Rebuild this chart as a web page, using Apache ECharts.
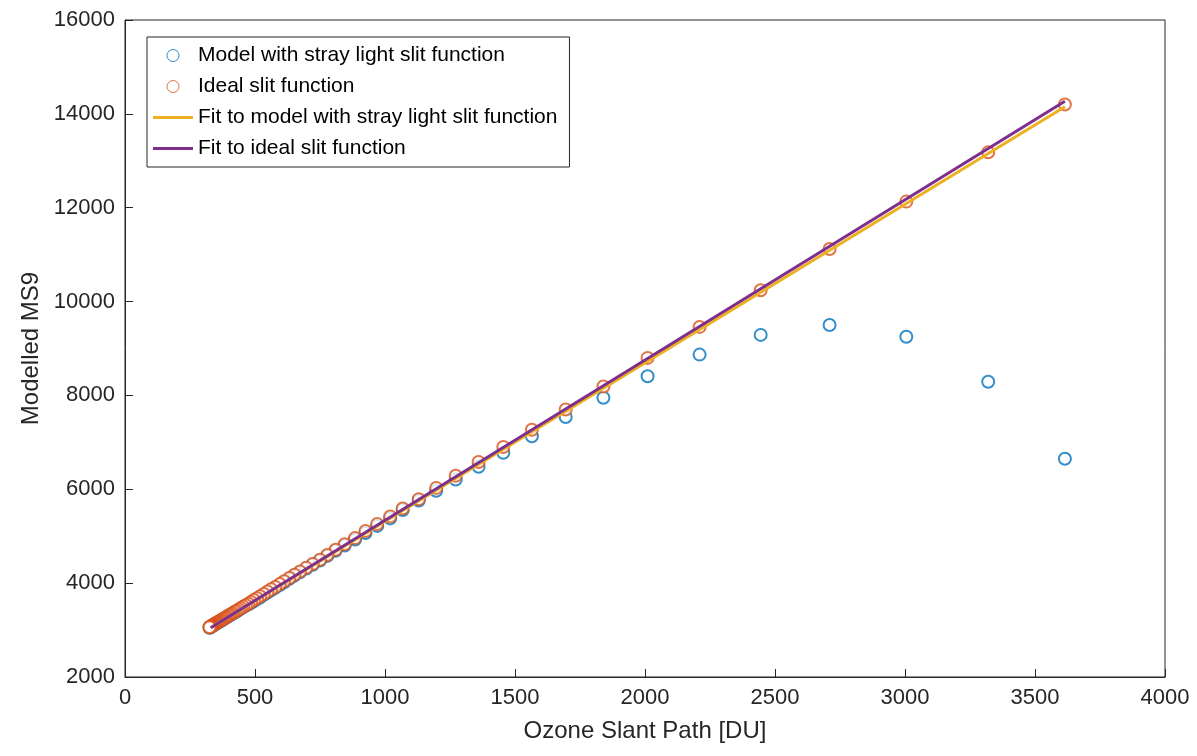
<!DOCTYPE html>
<html>
<head>
<meta charset="utf-8">
<script src="https://cdn.jsdelivr.net/npm/echarts@6/dist/echarts.min.js"></script>
<style>html,body{margin:0;padding:0;background:#fff}#chart{width:1197px;height:756px}</style>
</head>
<body>
<div id="chart"></div>
<script>
// ozone slant path [DU]
const slantPath = [3615, 3320, 3005, 2710, 2445, 2210, 2010, 1840, 1695, 1565, 1455, 1360, 1272, 1197, 1130,
  1068, 1020, 970, 925, 885, 845, 810, 778, 750, 722, 697, 673, 652, 632, 612, 595, 578, 562, 548, 534,
  520, 508, 496, 485, 475, 465, 455, 446, 438, 430, 422, 415, 408, 402, 396, 390, 385, 380, 375, 370,
  366, 362, 358, 354, 351, 348, 345, 342, 340, 338, 336, 334, 332, 331, 330, 329, 328, 327, 326, 325];
const strayMS9 = [6650, 8290, 9250, 9500, 9290, 8870, 8410, 7950, 7540, 7130, 6780, 6480, 6210, 5970, 5760,
  5560, 5380, 5220, 5070, 4930, 4800, 4690, 4580, 4480, 4390, 4310, 4230, 4160, 4090, 4020, 3960, 3900, 3850, 3800, 3750,
  3700, 3660, 3620, 3580, 3550, 3520, 3490, 3460, 3430, 3400, 3380, 3350, 3330, 3310, 3290, 3270, 3250, 3240, 3220, 3200,
  3190, 3180, 3160, 3150, 3140, 3130, 3120, 3110, 3100, 3100, 3090, 3080, 3080, 3070, 3070, 3070, 3060, 3060, 3060, 3050];
const idealMS9 = [14200, 13180, 12130, 11120, 10240, 9460, 8800, 8190, 7700, 7270, 6900, 6580, 6290, 6030, 5790,
  5590, 5420, 5260, 5110, 4960, 4830, 4710, 4600, 4500, 4410, 4330, 4250, 4180, 4110, 4040, 3980, 3920, 3870, 3820, 3770,
  3720, 3680, 3640, 3600, 3560, 3530, 3500, 3470, 3440, 3410, 3390, 3360, 3340, 3320, 3300, 3280, 3260, 3240, 3230, 3210,
  3200, 3180, 3170, 3160, 3150, 3140, 3130, 3120, 3110, 3100, 3100, 3090, 3080, 3080, 3070, 3070, 3070, 3060, 3060, 3060];
const fitStrayX = [330, 3615];
const fitStrayY = [3050, 14150];
const fitIdealX = [330, 3615];
const fitIdealY = [3050, 14270];

const names = ['Model with stray light slit function', 'Ideal slit function',
  'Fit to model with stray light slit function', 'Fit to ideal slit function'];

const chart = echarts.init(document.getElementById('chart'));
const font = 'Liberation Sans';
const axisStyle = {
  axisLine: {show: true, onZero: false, lineStyle: {color: '#262626', width: 1}},
  axisTick: {show: true, inside: true, length: 8, lineStyle: {color: '#262626'}},
  axisLabel: {color: '#262626', fontSize: 22, fontFamily: font, margin: 10, formatter: v => String(v)},
  splitLine: {show: false},
  nameTextStyle: {color: '#262626', fontSize: 24, fontFamily: font},
  nameLocation: 'middle'
};
const pair = (xs, ys) => xs.map((x, i) => [x, ys[i]]);
const lineIcon = 'path://M0,0H40V3H0Z';
const option = {
  animation: false,
  grid: {left: 125, right: 32, top: 20, bottom: 79, show: true, borderColor: '#262626', borderWidth: 1},
  legend: {
    orient: 'vertical', left: 147, top: 37, padding: [8, 12, 8, 6], itemGap: 10,
    backgroundColor: '#fff', borderColor: '#262626', borderWidth: 1,
    itemWidth: 40, itemHeight: 12,
    textStyle: {fontSize: 21, color: '#000', fontFamily: font},
    data: [
      {name: names[0], icon: 'circle', itemStyle: {color: '#fff', borderColor: '#0072BD', borderWidth: 1}},
      {name: names[1], icon: 'circle', itemStyle: {color: '#fff', borderColor: '#D95319', borderWidth: 1}},
      {name: names[2], icon: lineIcon, itemStyle: {color: '#EDB120', borderWidth: 0}},
      {name: names[3], icon: lineIcon, itemStyle: {color: '#7E2F8E', borderWidth: 0}}
    ]
  },
  xAxis: Object.assign({type: 'value', min: 0, max: 4000, interval: 500, name: 'Ozone Slant Path [DU]', nameGap: 42}, axisStyle),
  yAxis: Object.assign({type: 'value', min: 2000, max: 16000, interval: 2000, name: 'Modelled MS9', nameGap: 72}, axisStyle),
  series: [
    {name: names[0], type: 'scatter', symbol: 'emptyCircle', symbolSize: 12,
      itemStyle: {color: '#0072BD', borderColor: '#0072BD', borderWidth: 0.8}, data: pair(slantPath, strayMS9)},
    {name: names[1], type: 'scatter', symbol: 'emptyCircle', symbolSize: 12,
      itemStyle: {color: '#D95319', borderColor: '#D95319', borderWidth: 0.8}, data: pair(slantPath, idealMS9)},
    {name: names[2], type: 'line', showSymbol: false, symbol: 'none', lineStyle: {color: '#EDB120', width: 3},
      itemStyle: {color: '#EDB120'}, data: pair(fitStrayX, fitStrayY)},
    {name: names[3], type: 'line', showSymbol: false, symbol: 'none', lineStyle: {color: '#7E2F8E', width: 3},
      itemStyle: {color: '#7E2F8E'}, data: pair(fitIdealX, fitIdealY)}
  ]
};
chart.setOption(option);
</script>
</body>
</html>
